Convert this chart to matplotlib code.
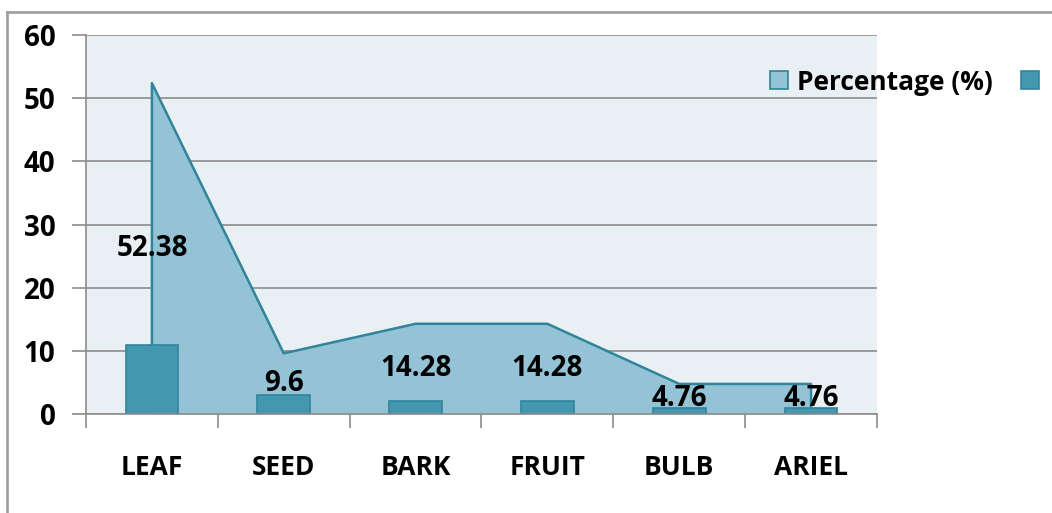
import matplotlib
matplotlib.use("Agg")
import matplotlib.pyplot as plt
from matplotlib.patches import Patch
from matplotlib.lines import Line2D

categories = ["LEAF", "SEED", "BARK", "FRUIT", "BULB", "ARIEL"]
percentage = [52.38, 9.6, 14.28, 14.28, 4.76, 4.76]
counts = [11, 3, 2, 2, 1, 1]
yticks = [0, 10, 20, 30, 40, 50, 60]

plt.rcParams['font.family'] = ['Open Sans', 'DejaVu Sans']
plt.rcParams['font.weight'] = 'bold'

W, H = 1052, 513
fig = plt.figure(figsize=(W / 100, H / 100), dpi=100)
ax = fig.add_axes([86 / W, 1 - 414 / H, (877 - 86) / W, (414 - 35) / H])

area_fill = '#93C3D5'
area_edge = '#31849B'
bar_fill = '#4398B0'
bg = '#E8F0F4'
grey = '#8C8C8C'
FS = 19

ax.set_facecolor(bg)
x = list(range(len(categories)))

for yv in yticks:
    ax.axhline(yv, color=grey, lw=1.2, zorder=1)

ax.fill_between(x, percentage, 0, color=area_fill, zorder=2, lw=0)
ax.plot([x[0]] + x + [x[-1]], [0] + percentage + [0], color=area_edge, lw=1.8, zorder=3)
ax.bar(x, counts, width=0.4, color=bar_fill, edgecolor=area_edge, lw=1.2, zorder=4)

for xi, v in zip(x, percentage):
    lbl = f"{v:g}"
    ax.text(xi, v / 2, lbl, ha='center', va='center', fontsize=FS + 1, fontweight='bold', color='black', zorder=6)

ax.set_xlim(-0.5, len(categories) - 0.5)
ax.set_ylim(0, 60)
ax.set_yticks(yticks)
ax.set_yticklabels([str(t) for t in yticks], fontsize=FS + 1, fontweight='bold')
ax.tick_params(axis='y', length=10, color=grey, width=1.2, pad=12)

ax.set_xticks([i - 0.5 for i in range(len(categories) + 1)])
ax.set_xticklabels([])
ax.tick_params(axis='x', which='major', length=10, color=grey, width=1.2)
ax.set_xticks(x, minor=True)
ax.set_xticklabels(categories, minor=True, fontsize=FS, fontweight='bold')
ax.tick_params(axis='x', which='minor', length=0, pad=29)

for s in ['top', 'right']:
    ax.spines[s].set_visible(False)
for s in ['left', 'bottom']:
    ax.spines[s].set_color(grey)
    ax.spines[s].set_linewidth(1.2)
    ax.spines[s].set_zorder(5)

handles = [Patch(facecolor=area_fill, edgecolor=area_edge, lw=1.2),
           Patch(facecolor=bar_fill, edgecolor=area_edge, lw=1.2)]
leg = fig.legend(handles, ['Percentage (%)', ''], loc='center left',
                 bbox_to_anchor=(770 / W, 1 - 82 / H), ncol=2, frameon=False,
                 prop={'size': FS, 'weight': 'bold'}, handlelength=0.68, handleheight=0.68,
                 handletextpad=0.33, columnspacing=1.1, borderaxespad=0, borderpad=0)

fig.add_artist(Line2D([7 / W, 7 / W], [0, 1 - 12 / H], color='#A0A0A0', lw=2, transform=fig.transFigure))
fig.add_artist(Line2D([7 / W, 1], [1 - 12 / H, 1 - 12 / H], color='#A0A0A0', lw=2, transform=fig.transFigure))

fig.savefig('out.png', dpi=100)
